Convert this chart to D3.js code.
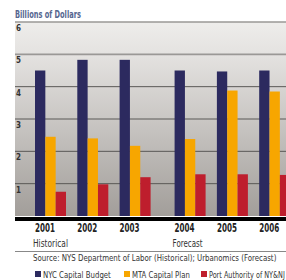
<!DOCTYPE html>
<html><head><meta charset="utf-8">
<script src="https://cdn.jsdelivr.net/npm/d3@7"></script>
<style>
html,body{margin:0;padding:0;background:#fff;}
svg{display:block;}
text{font-family:"DejaVu Sans Condensed","Liberation Sans Narrow","Arial Narrow",sans-serif;font-stretch:condensed;}
</style></head>
<body>
<script>
const years = ["2001","2002","2003","2004","2005","2006"];
const periods = ["Historical","Historical","Historical","Forecast","Forecast","Forecast"];
const seriesNames = ["NYC Capital Budget","MTA Capital Plan","Port Authority of NY&NJ"];
const nycCapital = [4.5, 4.83, 4.83, 4.5, 4.47, 4.5];
const mtaCapital = [2.45, 2.4, 2.17, 2.38, 3.88, 3.85];
const portAuthority = [0.75, 0.98, 1.2, 1.29, 1.29, 1.27];
const yTicks = [1,2,3,4,5,6];
const colors = ["#2c2a5f","#f7a600","#be1e2d"];
const sourceText = "Source: NYS Department of Labor (Historical); Urbanomics (Forecast)";
const yTitle = "Billions of Dollars";

const W = 286, H = 280;
const svg = d3.select("body").append("svg").attr("width", W).attr("height", H);
const defs = svg.append("defs");
const grad = defs.append("linearGradient").attr("id","bg").attr("x1",0).attr("y1",0).attr("x2",0).attr("y2",1);
grad.append("stop").attr("offset","0%").attr("stop-color","#eeedeb");
grad.append("stop").attr("offset","17%").attr("stop-color","#e4e2e0");
grad.append("stop").attr("offset","100%").attr("stop-color","#a29e9a");

// squeeze a text horizontally to a target width (condensed look) using a transform
function fit(sel, x, yy, width, anchor) {
  sel.each(function(d,i){
    const t = d3.select(this).attr("x",0).attr("y",0);
    const w = this.getComputedTextLength();
    const tw = typeof width === "function" ? width(d,i) : width;
    const s = w > 0 ? tw / w : 1;
    const xx = typeof x === "function" ? x(d,i) : x;
    const yv = typeof yy === "function" ? yy(d,i) : yy;
    const left = anchor === "middle" ? xx - tw/2 : xx;
    t.attr("text-anchor","start").attr("transform",`translate(${left},${yv}) scale(${s},1)`);
  });
}

const plotL = 15, plotR = 286;
const y = d3.scaleLinear().domain([0,6]).range([216,22]);
const slot = d3.scaleLinear().domain([0,1]).range([35, 77.3]);
const gapOffset = p => p === "Forecast" ? 0.3 : 0;
const groupX = i => slot(i + gapOffset(periods[i]));
const inner = d3.scaleBand().domain(seriesNames).range([0,31]).padding(0);

svg.append("rect").attr("x",plotL).attr("y",y(6)).attr("width",plotR-plotL).attr("height",y(0)-y(6)).attr("fill","url(#bg)");

svg.append("g").selectAll("line").data(yTicks).join("line")
  .attr("x1",plotL).attr("x2",plotR)
  .attr("y1",d=>y(d)).attr("y2",d=>y(d))
  .attr("stroke",d=> d>=5 ? "#9a9896" : "#5a5856")
  .attr("stroke-width",d=> d>=5 ? 1.6 : 1);

svg.append("g").selectAll("text").data(yTicks).join("text")
  .attr("font-size",9.5).attr("font-weight","bold").attr("fill","#333")
  .text(d=>d)
  .call(fit, 16, d=>y(d)+9, 5, "start");

const series = [nycCapital, mtaCapital, portAuthority];
const bars = [];
years.forEach((yr,i)=>{
  series.forEach((arr,s)=>{ bars.push({i, s, v:arr[i]}); });
});
svg.append("g").selectAll("rect").data(bars).join("rect")
  .attr("x",d=>groupX(d.i)+inner(seriesNames[d.s]))
  .attr("width",inner.bandwidth())
  .attr("y",d=>y(d.v))
  .attr("height",d=>y(0)-y(d.v))
  .attr("fill",d=>colors[d.s]);

svg.append("rect").attr("x",plotL).attr("y",y(0)+1).attr("width",plotR-plotL).attr("height",4).attr("fill","#000");

svg.append("g").selectAll("text").data(years).join("text")
  .attr("font-size",12).attr("font-weight","bold").attr("fill","#222")
  .text(d=>d)
  .call(fit, (d,i)=>groupX(i)+10, 232, 20, "middle");

const periodLabels = ["Historical","Forecast"];
const periodWidths = [35, 30];
svg.append("g").selectAll("text").data(periodLabels).join("text")
  .attr("font-size",10).attr("fill","#333")
  .text(d=>d)
  .call(fit, d=>groupX(periods.indexOf(d))-2, 247, (d,i)=>periodWidths[i], "start");

svg.append("line").attr("x1",plotL).attr("x2",plotR).attr("y1",251.5).attr("y2",251.5).attr("stroke","#888").attr("stroke-width",1);

svg.append("text").attr("font-size",9.5).attr("fill","#333").text(sourceText)
  .call(fit, 33, 261, 244, "start");

svg.append("text").attr("font-size",10).attr("font-weight","bold").attr("fill","#55668f").text(yTitle)
  .call(fit, 15, 18, 66, "start");

const legendX = [35, 124, 201];
const legendW = [68, 58, 76];
const lg = svg.append("g").selectAll("g").data(seriesNames).join("g")
  .attr("transform",(d,i)=>`translate(${legendX[i]},271)`);
lg.append("rect").attr("width",6).attr("height",6).attr("fill",(d,i)=>colors[i]);
lg.append("text").attr("font-size",9.5).attr("fill","#333").text(d=>d)
  .each(function(d,i){ d3.select(this).call(fit, 8, 6.5, legendW[i], "start"); });
</script>
</body></html>
